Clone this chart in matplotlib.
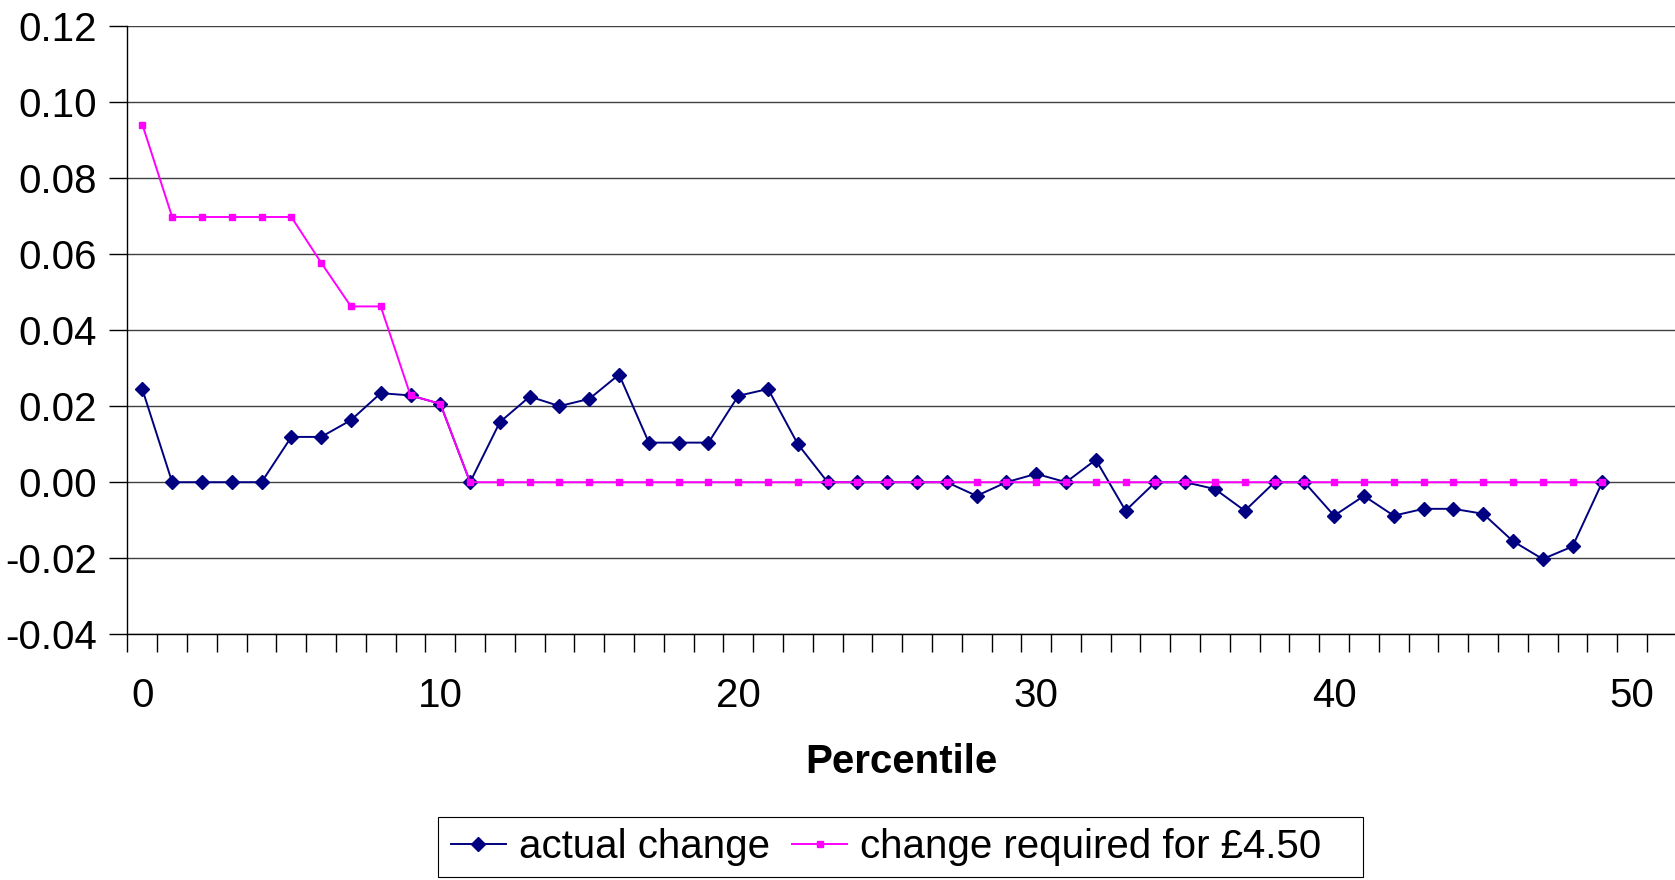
import numpy as np
import matplotlib
matplotlib.use("Agg")
import matplotlib.pyplot as plt
from matplotlib.patches import Rectangle
from matplotlib.ticker import FuncFormatter, FixedLocator

plt.rcParams['font.family'] = ['Liberation Sans', 'DejaVu Sans']

# percentiles 0..49
percentile = list(range(50))

actual_change = [
    0.0244, 0.0, 0.0, 0.0, 0.0, 0.0119, 0.0119, 0.0163, 0.0234, 0.0228,
    0.0206, 0.0, 0.0158, 0.0225, 0.0200, 0.0219, 0.0283, 0.0104, 0.0104, 0.0104,
    0.0227, 0.0245, 0.0100, 0.0, 0.0, 0.0, 0.0, 0.0, -0.0036, 0.0,
    0.0022, 0.0, 0.0059, -0.0075, 0.0, 0.0, -0.0018, -0.0075, 0.0, 0.0,
    -0.0088, -0.0036, -0.0088, -0.0070, -0.0070, -0.0083, -0.0155, -0.0202, -0.0169, 0.0,
]

required_change = [
    0.0940, 0.0697, 0.0697, 0.0697, 0.0697, 0.0697, 0.0577, 0.0462, 0.0462, 0.0228,
    0.0206] + [0.0] * 39

y_ticks = [-0.04, -0.02, 0.00, 0.02, 0.04, 0.06, 0.08, 0.10, 0.12]
x_labels = [0, 10, 20, 30, 40, 50]

FS = 29

fig = plt.figure(figsize=(16.75, 8.8), dpi=100)
ax = fig.add_axes([0.0761, 0.2791, 0.9239, 0.6918])

ax.plot(percentile, actual_change, color='#000080', lw=1.4, marker='D', ms=7.5,
        label='actual change', zorder=3)
ax.plot(percentile, required_change, color='#FF00FF', lw=1.4, marker='s', ms=5,
        label='change required for £4.50', zorder=4)

ax.set_xlim(-0.5, 51.44)
ax.set_ylim(-0.04, 0.12)

ax.set_yticks(y_ticks)
ax.yaxis.set_major_formatter(FuncFormatter(lambda v, p: f"{v:.2f}".replace('\u2212', '-')))
ax.grid(axis='y', color='#404040', lw=1.0)
ax.set_axisbelow(True)

ax.xaxis.set_major_locator(FixedLocator(x_labels))
ax.xaxis.set_minor_locator(FixedLocator(np.arange(-0.5, 51, 1.0)))
ax.tick_params(axis='x', which='major', length=0, pad=31, labelsize=FS)
ax.tick_params(axis='x', which='minor', length=13, width=1.0, direction='out')
ax.tick_params(axis='y', length=13, width=1.0, pad=9, labelsize=FS)

for s in ['top', 'right']:
    ax.spines[s].set_visible(False)
for s in ['left', 'bottom']:
    ax.spines[s].set_linewidth(1.0)

ax.set_xlabel('Percentile', fontsize=FS, fontweight='bold', labelpad=20)

# legend box (Excel leaves some blank room on the right)
fig.patches.append(Rectangle((438 / 1675, 3 / 880), 925 / 1675, 60 / 880,
                             transform=fig.transFigure, fill=False,
                             edgecolor='black', lw=0.8))
leg = fig.legend(loc='center left', bbox_to_anchor=(0.2693, 0.0375), ncol=2, fontsize=FS,
                 frameon=False, handlelength=1.36, handletextpad=0.33, columnspacing=0.55,
                 borderpad=0, borderaxespad=0)

fig.savefig('out.png', dpi=100)
